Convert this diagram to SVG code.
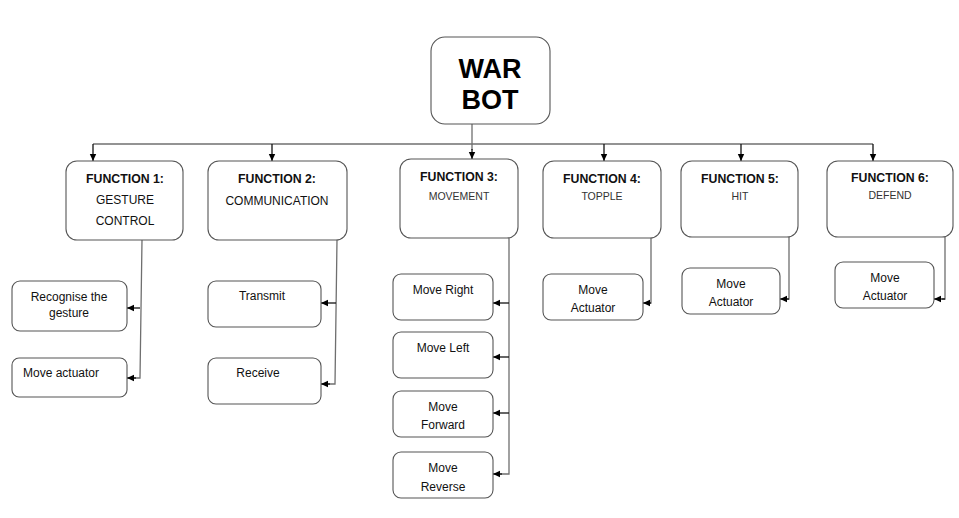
<svg xmlns="http://www.w3.org/2000/svg" width="959" height="518" viewBox="0 0 959 518">
<defs>
<marker id="ah" markerUnits="userSpaceOnUse" markerWidth="8" markerHeight="8" refX="7" refY="4" orient="auto">
<path d="M0,0.8 L7,4 L0,7.2 Z" fill="#000"/>
</marker>
<style>
.box{fill:#fff;stroke:#555;stroke-width:1.1}
.c{fill:none;stroke:#6f6f6f;stroke-width:1.3}
.a{fill:none;stroke:#111;stroke-width:1.3;marker-end:url(#ah)}
text{font-family:"Liberation Sans",Arial,sans-serif;fill:#111;text-anchor:middle}
.t{font-size:12.3px;font-weight:bold}
.s{font-size:12px}
.l{font-size:10.5px;fill:#333}
.k{font-size:12px}
.big{font-size:27px;font-weight:bold;fill:#000}
</style>
</defs>
<rect width="959" height="518" fill="#fff"/>

<g id="connectors">
<line class="c" x1="472" y1="124" x2="472" y2="150"/>
<line class="a" x1="472" y1="149" x2="472" y2="159"/>
<line class="c" x1="93" y1="144" x2="873" y2="144"/>
<line class="a" x1="93" y1="144" x2="93" y2="161"/>
<line class="a" x1="272" y1="144" x2="272" y2="161"/>
<line class="a" x1="604" y1="144" x2="604" y2="161"/>
<line class="a" x1="741" y1="144" x2="741" y2="161"/>
<line class="a" x1="873" y1="144" x2="873" y2="161"/>

<polyline class="c" points="142,240 140,378 134,378"/>
<line class="a" x1="140" y1="308" x2="127" y2="308"/>
<line class="a" x1="136" y1="378" x2="127" y2="378"/>

<polyline class="c" points="337,240 335,384 328,384"/>
<line class="a" x1="336" y1="303" x2="321" y2="303"/>
<line class="a" x1="330" y1="384" x2="321" y2="384"/>

<polyline class="c" points="509,238 509,474 500,474"/>
<line class="a" x1="509" y1="303" x2="493" y2="303"/>
<line class="a" x1="509" y1="357" x2="493" y2="357"/>
<line class="a" x1="509" y1="413" x2="493" y2="413"/>
<line class="a" x1="502" y1="474" x2="493" y2="474"/>

<polyline class="c" points="651,238 651,303 648,303"/>
<line class="a" x1="651" y1="303" x2="643" y2="303"/>
<polyline class="c" points="789,237 789,299 786,299"/>
<line class="a" x1="789" y1="299" x2="780" y2="299"/>
<polyline class="c" points="945,237 945,299 942,299"/>
<line class="a" x1="945" y1="299" x2="934" y2="299"/>
</g>

<g id="warbot">
<rect class="box" x="431" y="37" width="119" height="87" rx="14"/>
<text class="big" x="490" y="78">WAR</text>
<text class="big" x="490" y="109">BOT</text>
</g>

<g id="f1">
<rect class="box" x="66" y="161" width="117" height="79" rx="11"/>
<text class="t" x="125" y="183">FUNCTION 1:</text>
<text class="s" x="125" y="204">GESTURE</text>
<text class="s" x="125" y="225">CONTROL</text>
</g>
<g id="f2">
<rect class="box" x="208" y="161" width="139" height="79" rx="11"/>
<text class="t" x="277" y="183">FUNCTION 2:</text>
<text class="s" x="277" y="205">COMMUNICATION</text>
</g>
<g id="f3">
<rect class="box" x="400" y="159" width="118" height="79" rx="11"/>
<text class="t" x="459" y="181">FUNCTION 3:</text>
<text class="l" x="459" y="200">MOVEMENT</text>
</g>
<g id="f4">
<rect class="box" x="543" y="161" width="118" height="77" rx="11"/>
<text class="t" x="602" y="183">FUNCTION 4:</text>
<text class="l" x="602" y="200">TOPPLE</text>
</g>
<g id="f5">
<rect class="box" x="681" y="161" width="117" height="76" rx="11"/>
<text class="t" x="740" y="183">FUNCTION 5:</text>
<text class="l" x="740" y="200">HIT</text>
</g>
<g id="f6">
<rect class="box" x="827" y="161" width="126" height="76" rx="11"/>
<text class="t" x="890" y="182">FUNCTION 6:</text>
<text class="l" x="890" y="199">DEFEND</text>
</g>

<g id="recognise">
<rect class="box" x="12" y="281" width="115" height="50" rx="8"/>
<text class="k" x="69" y="301">Recognise the</text>
<text class="k" x="69" y="317">gesture</text>
</g>
<g id="moveactuator1">
<rect class="box" x="12" y="358" width="115" height="39" rx="7"/>
<text class="k" x="23" y="377" style="text-anchor:start">Move actuator</text>
</g>
<g id="transmit">
<rect class="box" x="208" y="281" width="113" height="46" rx="8"/>
<text class="k" x="262" y="300">Transmit</text>
</g>
<g id="receive">
<rect class="box" x="208" y="358" width="113" height="46" rx="8"/>
<text class="k" x="258" y="377">Receive</text>
</g>
<g id="moveright">
<rect class="box" x="393" y="274" width="100" height="46" rx="8"/>
<text class="k" x="443" y="294">Move Right</text>
</g>
<g id="moveleft">
<rect class="box" x="393" y="332" width="100" height="46" rx="8"/>
<text class="k" x="443" y="352">Move Left</text>
</g>
<g id="moveforward">
<rect class="box" x="393" y="391" width="100" height="46" rx="8"/>
<text class="k" x="443" y="411">Move</text>
<text class="k" x="443" y="429">Forward</text>
</g>
<g id="movereverse">
<rect class="box" x="393" y="452" width="100" height="46" rx="8"/>
<text class="k" x="443" y="472">Move</text>
<text class="k" x="443" y="491">Reverse</text>
</g>
<g id="actuator4">
<rect class="box" x="543" y="274" width="100" height="46" rx="8"/>
<text class="k" x="593" y="294">Move</text>
<text class="k" x="593" y="312">Actuator</text>
</g>
<g id="actuator5">
<rect class="box" x="682" y="268" width="98" height="46" rx="8"/>
<text class="k" x="731" y="288">Move</text>
<text class="k" x="731" y="306">Actuator</text>
</g>
<g id="actuator6">
<rect class="box" x="835" y="262" width="99" height="46" rx="8"/>
<text class="k" x="885" y="282">Move</text>
<text class="k" x="885" y="300">Actuator</text>
</g>
</svg>
